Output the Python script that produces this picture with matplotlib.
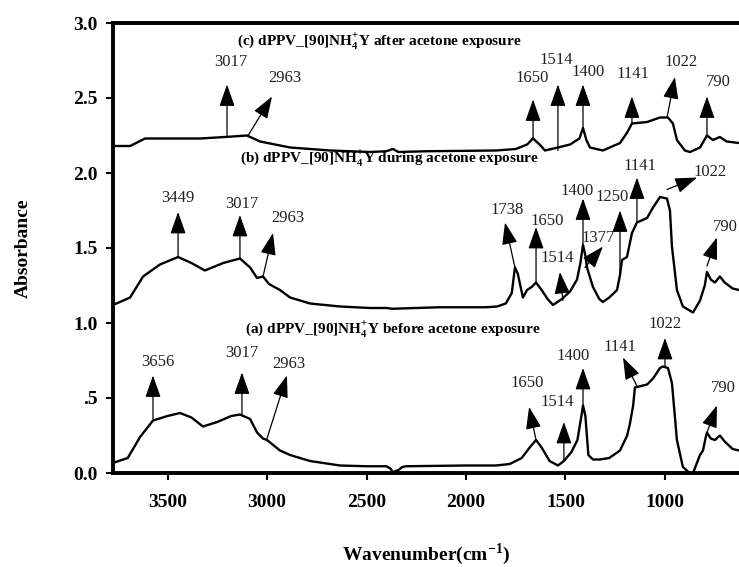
import matplotlib
matplotlib.use("Agg")
import matplotlib.pyplot as plt

plt.rcParams['font.family'] = ['Liberation Serif', 'DejaVu Serif']
plt.rcParams['mathtext.fontset'] = 'custom'
plt.rcParams['mathtext.rm'] = 'Liberation Serif'
plt.rcParams['mathtext.bf'] = 'Liberation Serif:bold'

# ---------------- data ----------------
wn_a = [3774, 3700, 3638, 3573, 3500, 3437, 3380, 3322, 3250, 3180, 3136, 3085, 3050, 3020, 3000,
        2935, 2884, 2784, 2734, 2633, 2500, 2400, 2380, 2367, 2340, 2320, 2300, 2000, 1850, 1780,
        1720, 1680, 1648, 1620, 1580, 1538, 1508, 1470, 1440, 1420, 1412, 1400, 1385, 1362, 1327,
        1280, 1226, 1190, 1176, 1160, 1151, 1120, 1090, 1060, 1025, 1010, 985, 965, 940, 910, 880,
        859, 824, 809, 795, 789, 770, 749, 724, 700, 660, 628]
abs_a = [0.067, 0.10, 0.24, 0.35, 0.38, 0.40, 0.37, 0.31, 0.34, 0.38, 0.39, 0.36, 0.27, 0.23, 0.22,
         0.15, 0.12, 0.08, 0.07, 0.05, 0.045, 0.045, 0.03, 0.005, 0.02, 0.04, 0.045, 0.05, 0.05, 0.06,
         0.10, 0.17, 0.22, 0.17, 0.08, 0.05, 0.08, 0.14, 0.22, 0.38, 0.45, 0.38, 0.12, 0.09, 0.09,
         0.10, 0.15, 0.25, 0.33, 0.45, 0.57, 0.58, 0.59, 0.63, 0.70, 0.71, 0.70, 0.60, 0.22, 0.04, 0.005,
         0.0, 0.12, 0.15, 0.24, 0.27, 0.23, 0.22, 0.25, 0.21, 0.16, 0.15]

wn_b = [3774, 3688, 3623, 3538, 3447, 3380, 3312, 3220, 3136, 3085, 3050, 3020, 2990, 2935, 2884,
        2784, 2633, 2482, 2400, 2370, 2131, 1900, 1844, 1800, 1770, 1754, 1740, 1714, 1693, 1670,
        1648, 1620, 1590, 1563, 1518, 1477, 1442, 1425, 1412, 1400, 1392, 1362, 1330, 1312, 1280,
        1241, 1226, 1216, 1191, 1166, 1141, 1090, 1060, 1025, 990, 975, 965, 940, 910, 859, 824,
        800, 789, 770, 749, 724, 700, 660, 628]
abs_b = [1.12, 1.17, 1.31, 1.39, 1.44, 1.40, 1.35, 1.40, 1.43, 1.37, 1.30, 1.31, 1.26, 1.22, 1.17,
         1.13, 1.11, 1.10, 1.10, 1.095, 1.105, 1.105, 1.11, 1.13, 1.20, 1.37, 1.33, 1.17, 1.22, 1.24,
         1.27, 1.22, 1.16, 1.12, 1.16, 1.21, 1.29, 1.40, 1.52, 1.45, 1.37, 1.24, 1.16, 1.14, 1.17,
         1.22, 1.32, 1.42, 1.44, 1.60, 1.67, 1.70, 1.77, 1.84, 1.83, 1.75, 1.51, 1.22, 1.11, 1.07, 1.15,
         1.25, 1.34, 1.29, 1.27, 1.31, 1.27, 1.23, 1.22]

wn_c = [3774, 3688, 3613, 3337, 3211, 3101, 3035, 2884, 2683, 2482, 2400, 2367, 2340, 2200, 1850,
        1750, 1693, 1663, 1630, 1603, 1538, 1477, 1430, 1412, 1395, 1377, 1312, 1226, 1190, 1166,
        1090, 1025, 985, 960, 940, 900, 874, 824, 789, 759, 724, 690, 628]
abs_c = [2.18, 2.18, 2.23, 2.23, 2.24, 2.25, 2.21, 2.17, 2.15, 2.14, 2.145, 2.16, 2.14, 2.145, 2.15,
         2.16, 2.19, 2.23, 2.19, 2.15, 2.17, 2.19, 2.23, 2.30, 2.22, 2.17, 2.15, 2.20, 2.27, 2.33,
         2.34, 2.37, 2.37, 2.33, 2.22, 2.15, 2.14, 2.17, 2.25, 2.22, 2.24, 2.21, 2.20]

labels = [r"(a) dPPV_[90]NH$_\mathbf{4}^\mathbf{+}$Y before acetone exposure",
          r"(b) dPPV_[90]NH$_\mathbf{4}^\mathbf{+}$Y during acetone exposure",
          r"(c) dPPV_[90]NH$_\mathbf{4}^\mathbf{+}$Y after acetone exposure"]
label_x = [3111, 3136, 3151]
label_y = [0.95, 2.09, 2.87]

# peak annotations: (text, tail_x, tail_y, head_x, head_y, text_x, text_y)
peaks_a = [("3656", 3573, 0.36, 3573, 0.65, 3548, 0.74),
           ("3017", 3126, 0.39, 3126, 0.67, 3126, 0.80),
           ("2963", 3000, 0.23, 2900, 0.65, 2890, 0.73),
           ("1650", 1648, 0.22, 1683, 0.44, 1693, 0.60),
           ("1514", 1508, 0.08, 1508, 0.34, 1543, 0.47),
           ("1400", 1412, 0.45, 1412, 0.70, 1462, 0.78),
           ("1141", 1141, 0.58, 1211, 0.77, 1226, 0.84),
           ("1022", 1000, 0.71, 1000, 0.90, 1000, 0.99),
           ("790", 789, 0.27, 739, 0.45, 709, 0.57)]
peaks_b = [("3449", 3447, 1.44, 3447, 1.74, 3447, 1.83),
           ("3017", 3136, 1.43, 3136, 1.72, 3126, 1.79),
           ("2963", 3020, 1.31, 2970, 1.60, 2895, 1.70),
           ("1738", 1754, 1.37, 1804, 1.67, 1794, 1.75),
           ("1650", 1648, 1.27, 1648, 1.64, 1593, 1.68),
           ("1514", 1513, 1.15, 1528, 1.34, 1543, 1.43),
           ("1400", 1412, 1.52, 1412, 1.83, 1442, 1.88),
           ("1377", 1402, 1.37, 1312, 1.51, 1337, 1.57),
           ("1250", 1226, 1.32, 1226, 1.75, 1266, 1.84),
           ("1141", 1141, 1.67, 1141, 1.97, 1126, 2.05),
           ("1022", 990, 1.89, 839, 1.97, 774, 2.01),
           ("790", 789, 1.38, 739, 1.57, 698, 1.64)]
peaks_c = [("3017", 3201, 2.24, 3201, 2.59, 3181, 2.74),
           ("2963", 3095, 2.25, 2975, 2.51, 2910, 2.63),
           ("1650", 1663, 2.23, 1663, 2.49, 1668, 2.63),
           ("1514", 1538, 2.15, 1538, 2.59, 1548, 2.75),
           ("1400", 1412, 2.30, 1412, 2.59, 1387, 2.67),
           ("1141", 1166, 2.33, 1166, 2.51, 1161, 2.66),
           ("1022", 990, 2.37, 950, 2.64, 920, 2.74),
           ("790", 789, 2.25, 789, 2.51, 733, 2.61)]

xticks = [3500, 3000, 2500, 2000, 1500, 1000]
yticks = [0.0, 0.5, 1.0, 1.5, 2.0, 2.5, 3.0]
ytick_labels = ["0.0", ".5", "1.0", "1.5", "2.0", "2.5", "3.0"]

# ---------------- plot ----------------
fig = plt.figure(figsize=(7.39, 5.67), dpi=100)
ax = fig.add_axes([113 / 739, 1 - 473 / 567, 1 - 113 / 739, 450 / 567])

for wn, ab in [(wn_a, abs_a), (wn_b, abs_b), (wn_c, abs_c)]:
    ax.plot(wn, ab, color='black', lw=1.7, solid_joinstyle='round')

for txt, lx, ly in zip(labels, label_x, label_y):
    ax.text(lx, ly, txt, fontsize=11, fontweight='bold', ha='left', va='center')

for group in (peaks_a, peaks_b, peaks_c):
    for txt, tx, ty, hx, hy, sx, sy in group:
        ax.annotate("", xy=(hx, hy), xytext=(tx, ty),
                    arrowprops=dict(arrowstyle='-|>,head_width=0.3,head_length=0.85',
                                    mutation_scale=16, lw=0.9, color='black',
                                    shrinkA=0, shrinkB=0))
        ax.text(sx, sy, txt, fontsize=12, ha='center', va='center', color='#222222')

ax.set_xlim(3774, 628)
ax.set_ylim(0, 3.0)
ax.set_xticks(xticks)
ax.set_xticklabels([str(t) for t in xticks])
ax.set_yticks(yticks)
ax.set_yticklabels(ytick_labels)
for lab in ax.get_xticklabels() + ax.get_yticklabels():
    lab.set_fontweight('bold')
    lab.set_fontsize(14)
ax.tick_params(direction='out', length=5, width=1.5, pad=6)
ax.tick_params(axis='x', pad=10)

for s in ['left', 'bottom', 'top']:
    ax.spines[s].set_linewidth(2.8)
ax.spines['right'].set_visible(False)

ax.set_xlabel(r"Wavenumber(cm$^{\mathbf{-1}}$)", fontsize=14, fontweight='bold', labelpad=22)
ax.set_ylabel("Absorbance", fontsize=14, fontweight='bold', labelpad=30)

fig.savefig("out.png", dpi=100)
